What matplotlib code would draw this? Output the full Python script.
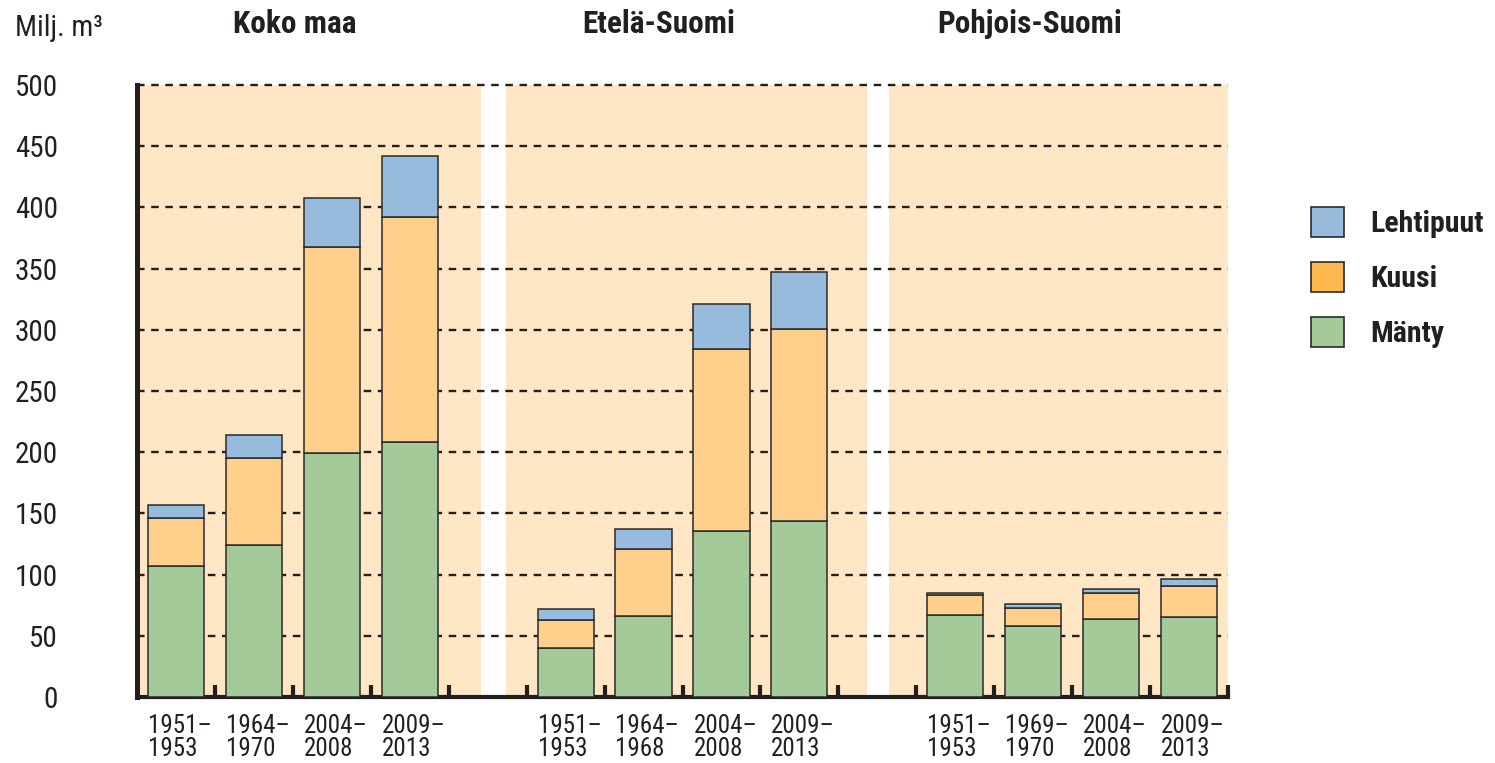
import matplotlib
matplotlib.use('Agg')
import matplotlib.pyplot as plt
from matplotlib.patches import Patch
from matplotlib.transforms import blended_transform_factory
import numpy as np

plt.rcParams['font.family'] = ['Roboto Condensed', 'Arial Narrow', 'Nimbus Sans Narrow', 'DejaVu Sans Condensed', 'DejaVu Sans']

# ---------------- data ----------------
regions = ['Koko maa', 'Etelä-Suomi', 'Pohjois-Suomi']
periods_koko = ['1951–\n1953', '1964–\n1970', '2004–\n2008', '2009–\n2013']
periods_etela = ['1951–\n1953', '1964–\n1968', '2004–\n2008', '2009–\n2013']
periods_pohjois = ['1951–\n1953', '1969–\n1970', '2004–\n2008', '2009–\n2013']

manty_koko = [107, 124, 199, 208]
kuusi_koko = [39, 71, 169, 184]
lehti_koko = [11, 19, 40, 50]

manty_etela = [40, 66, 136, 144]
kuusi_etela = [23, 55, 148, 157]
lehti_etela = [9, 16, 37, 46]

manty_pohjois = [67, 58, 64, 65]
kuusi_pohjois = [16, 15, 21, 26]
lehti_pohjois = [2, 3, 3, 5]

species = ['Lehtipuut', 'Kuusi', 'Mänty']
yticks = [0, 50, 100, 150, 200, 250, 300, 350, 400, 450, 500]

# ---------------- style ----------------
c_manty = '#A3CA98'
c_kuusi = '#FED08B'
c_lehti = '#96BBDC'
c_kuusi_leg = '#FDB94E'
c_bg = '#FFE6C4'
c_dark = '#231F20'
c_edge = '#2A2A2A'

fig = plt.figure(figsize=(14.95, 7.63), dpi=100)
ax = fig.add_axes([137/1495, 1-697/763, (1228-137)/1495, (697-85)/763])

groups = [
    (periods_koko, manty_koko, kuusi_koko, lehti_koko),
    (periods_etela, manty_etela, kuusi_etela, lehti_etela),
    (periods_pohjois, manty_pohjois, kuusi_pohjois, lehti_pohjois),
]
spans = [(-0.5, 3.92), (4.24, 8.87), (9.15, 13.5)]
title_x = [1.52, 6.2, 10.96]
bw = 0.72

trans = blended_transform_factory(ax.transData, ax.transAxes)

for g, (per, m, k, l) in enumerate(groups):
    x = np.arange(len(m)) + g * 5
    m = np.array(m); k = np.array(k); l = np.array(l)
    ax.axvspan(*spans[g], color=c_bg, zorder=0, lw=0)
    ax.bar(x, m, width=bw, color=c_manty, edgecolor=c_edge, lw=1.1, zorder=3)
    ax.bar(x, k, bottom=m, width=bw, color=c_kuusi, edgecolor=c_edge, lw=1.1, zorder=3)
    ax.bar(x, l, bottom=m + k, width=bw, color=c_lehti, edgecolor=c_edge, lw=1.1, zorder=3)
    for xi, lab in zip(x, per):
        ax.text(xi - bw/2, -0.027, lab, transform=trans, ha='left', va='top',
                fontsize=18, color=c_dark, linespacing=0.98)
    ax.text(title_x[g], 1.099, regions[g], transform=trans, ha='center', va='center',
            fontsize=22.5, fontweight='bold', color=c_dark)

ax.set_xlim(-0.5, 13.5)
ax.set_ylim(0, 500)

# grid lines
for yv in yticks[1:]:
    ax.axhline(yv, color=c_dark, lw=1.7, dashes=(3.2, 2.8), zorder=1, clip_on=False)

ax.set_yticks(yticks)
ax.set_yticklabels([str(v) for v in yticks], fontsize=21, color=c_dark)
ax.tick_params(axis='y', length=0, pad=57)
ax.set_xticks([i + 0.5 for i in range(14)])
ax.set_xticklabels([])
ax.tick_params(axis='x', direction='in', length=9, width=3, color=c_dark)

for s in ['top', 'right']:
    ax.spines[s].set_visible(False)
ax.spines['left'].set_linewidth(3.6)
ax.spines['left'].set_color(c_dark)
ax.spines['bottom'].set_linewidth(3)
ax.spines['bottom'].set_color(c_dark)
ax.set_facecolor('none')

fig.text(15/1495, 1-28/763, 'Milj. m³', fontsize=21, color=c_dark, ha='left', va='center')

handles = [Patch(facecolor=c_lehti, edgecolor=c_edge, lw=1.2),
           Patch(facecolor=c_kuusi_leg, edgecolor=c_edge, lw=1.2),
           Patch(facecolor=c_manty, edgecolor=c_edge, lw=1.2)]
leg = fig.legend(handles, species, loc='upper left', bbox_to_anchor=(1311/1495, 1-207/763),
                 frameon=False, prop={'weight': 'bold', 'size': 21.5},
                 handlelength=1.12, handleheight=1.16, handletextpad=0.85,
                 labelspacing=0.8, borderaxespad=0, borderpad=0)
for t in leg.get_texts():
    t.set_color(c_dark)

fig.savefig('out.png', dpi=100)
